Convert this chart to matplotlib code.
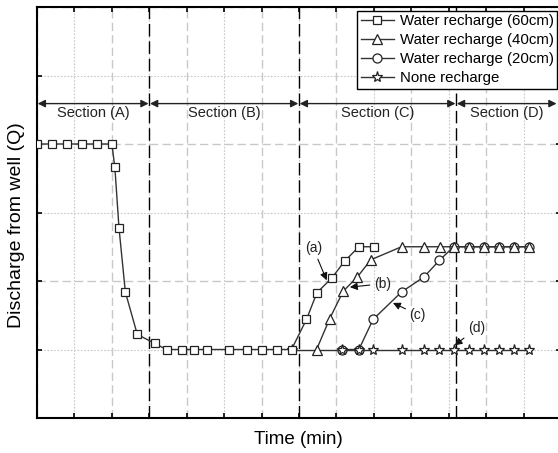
import matplotlib.pyplot as plt
from matplotlib.ticker import MultipleLocator, NullFormatter

plt.rcParams['font.family'] = ['Liberation Sans', 'DejaVu Sans']

# water recharge 60cm (carries the common drawdown through sections A and B)
t_60 = [0, 0.4, 0.8, 1.2, 1.6, 2.0, 2.08, 2.19, 2.36, 2.68, 3.14, 3.46, 3.88, 4.2,
        4.53, 5.13, 5.6, 6.0, 6.4, 6.8, 7.2, 7.48, 7.87, 8.22, 8.6, 9.0]
q_60 = [4, 4, 4, 4, 4, 4, 3.66, 2.78, 1.84, 1.22, 1.09, 1, 1, 1,
        1, 1, 1, 1, 1, 1, 1.44, 1.83, 2.04, 2.29, 2.5, 2.5]
# water recharge 40cm
t_40 = [7.47, 7.82, 8.18, 8.56, 8.92, 9.74, 10.35, 10.76, 11.15, 11.55, 11.95, 12.35, 12.75, 13.15]
q_40 = [1.0, 1.45, 1.85, 2.06, 2.31, 2.5, 2.5, 2.5, 2.5, 2.5, 2.5, 2.5, 2.5, 2.5]
# water recharge 20cm
t_20 = [8.16, 8.6, 8.98, 9.74, 10.34, 10.75, 11.13, 11.55, 11.95, 12.35, 12.75, 13.15]
q_20 = [1.0, 1.0, 1.44, 1.84, 2.06, 2.3, 2.5, 2.5, 2.5, 2.5, 2.5, 2.5]
# no recharge
t_0 = [6.8, 8.16, 8.6, 8.98, 9.74, 10.35, 10.75, 11.13, 11.55, 11.95, 12.35, 12.75, 13.15]
q_0 = [1.0] * len(t_0)

sec_names = ['Section (A)', 'Section (B)', 'Section (C)', 'Section (D)']
sec_bounds = [0, 3, 7, 11.2, 13.9]
sec_level = 4.59

notes = ['(a)', '(b)', '(c)', '(d)']
note_text = [(7.38, 2.48), (9.23, 1.96), (10.17, 1.51), (11.74, 1.31)]
note_tip = [(7.74, 2.01), (8.36, 1.91), (9.51, 1.68), (11.16, 1.06)]

fig = plt.figure(figsize=(5.58, 4.53), dpi=100)
ax = fig.add_axes([37 / 558, 35 / 453, 524 / 558, 411 / 453])
ax.set_axisbelow(True)

line_kw = dict(color='#333333', lw=1.0, markerfacecolor='white',
               markeredgecolor='#222222', markeredgewidth=0.9)
ax.plot(t_60, q_60, marker='s', ms=6, label='Water recharge (60cm)', zorder=5, **line_kw)
ax.plot(t_40, q_40, marker='^', ms=7, label='Water recharge (40cm)', zorder=4, **line_kw)
ax.plot(t_20, q_20, marker='o', ms=6.5, label='Water recharge (20cm)', zorder=2, **line_kw)
ax.plot(t_0, q_0, marker='*', ms=8, label='None recharge', zorder=3, **line_kw)

ax.set_xlim(0, 14)
ax.set_ylim(0, 6)

# grid: dashed on even units, dotted on odd units
ax.xaxis.set_major_locator(MultipleLocator(2))
ax.xaxis.set_minor_locator(MultipleLocator(1))
ax.yaxis.set_major_locator(MultipleLocator(2))
ax.yaxis.set_minor_locator(MultipleLocator(1))
ax.xaxis.set_major_formatter(NullFormatter())
ax.yaxis.set_major_formatter(NullFormatter())
ax.grid(which='major', color='#c8c8c8', lw=1.0, dashes=(6, 3))
ax.grid(which='minor', color='#c8c8c8', lw=0.8, dashes=(1.5, 1.5))
ax.tick_params(which='both', direction='in', top=True, right=True,
               length=3.5, width=1.2, color='black')
for s in ax.spines.values():
    s.set_linewidth(1.5)

# section boundaries and spans
for b in sec_bounds[1:-1]:
    ax.axvline(b, color='black', lw=1.0, dashes=(9, 3.5), zorder=1.5)
for i, name in enumerate(sec_names):
    x0, x1 = sec_bounds[i], sec_bounds[i + 1]
    ax.annotate('', xy=(x1, sec_level), xytext=(x0, sec_level),
                arrowprops=dict(arrowstyle='<|-|>', color='#222222', lw=1.0,
                                mutation_scale=11, shrinkA=0.5, shrinkB=0.5))
    ax.text((x0 + x1) / 2, sec_level - 0.14, name, ha='center', va='center',
            fontsize=10.5, color='#222222')

for lab, (tx, ty), (px, py) in zip(notes, note_text, note_tip):
    ax.annotate(lab, xy=(px, py), xytext=(tx, ty), ha='center', va='center',
                fontsize=10, color='#222222',
                arrowprops=dict(arrowstyle='-|>', color='#111111', lw=0.8,
                                mutation_scale=11, shrinkA=1, shrinkB=0))

leg = ax.legend(loc='upper right', fontsize=10.8, frameon=True, fancybox=False,
                edgecolor='black', framealpha=1, borderaxespad=0.25, borderpad=0.25,
                labelspacing=0.33, handlelength=2.2, handletextpad=0.4)
leg.get_frame().set_linewidth(1.0)

fig.text(16.7 / 558, 1 - 225 / 453, 'Discharge from well (Q)', rotation=90,
         ha='center', va='center', fontsize=14)
fig.text(298 / 558, 1 - 440 / 453, 'Time (min)', ha='center', va='center', fontsize=13.5)

fig.savefig('out.png', dpi=100)
